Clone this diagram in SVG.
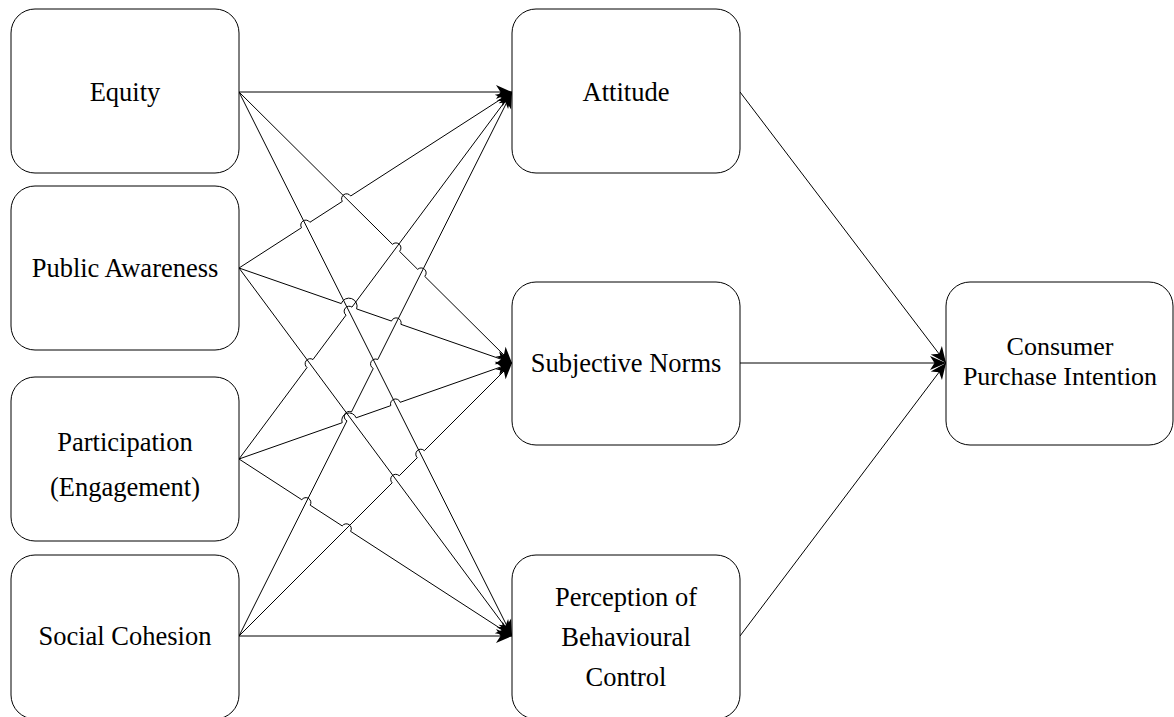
<svg xmlns="http://www.w3.org/2000/svg" width="1174" height="717" viewBox="0 0 1174 717">
<style>
.box{fill:#fff;stroke:#000;stroke-width:1}
.lbl{font-family:"Liberation Serif","Times New Roman",Times,serif;font-size:26.5px;fill:#000;text-anchor:middle}
.edge{fill:none;stroke:#000;stroke-width:1;marker-end:url(#arr)}
</style>
<defs>
<marker id="arr" markerWidth="18" markerHeight="15" refX="17" refY="7.5" orient="auto" markerUnits="userSpaceOnUse" viewBox="0 0 18 15"><path d="M17,7.5 L1,0.5 L5.5,7.5 L1,14.5 Z" fill="#000"/></marker>
</defs>
<rect width="1174" height="717" fill="#fff"/>
<g id="connectors">
<path class="edge" d="M239,92 L512,92"/>
<path class="edge" d="M239,92 L512,636"/>
<path class="edge" d="M239,268 L512,636"/>
<path class="edge" d="M239,636 L512,636"/>
<path class="edge" d="M239,92 L392.45,244.33 A5,5 0 0 1 399.55,251.37 L417.65,269.35 A5,5 0 0 1 424.75,276.39 L512,363"/>
<path class="edge" d="M239,268 L301.5,227.71 A5,5 0 0 1 309.9,222.29 L342.3,201.41 A5,5 0 0 1 350.7,195.99 L512,92"/>
<path class="edge" d="M239,268 L341.28,303.59 A8.12,8.12 0 0 1 356.62,308.93 L391.48,321.06 A5,5 0 0 1 400.92,324.34 L512,363"/>
<path class="edge" d="M239,459 L307.02,367.56 A5,5 0 0 1 312.98,359.54 L346.02,315.13 A5,5 0 0 1 351.98,307.11 L512,92"/>
<path class="edge" d="M239,459 L342.18,422.72 A7.39,7.39 0 0 1 356.12,417.81 L390.78,405.63 A5,5 0 0 1 400.22,402.31 L512,363"/>
<path class="edge" d="M239,459 L301.81,499.72 A5,5 0 0 1 310.19,505.16 L342.21,525.91 A5,5 0 0 1 350.59,531.35 L512,636"/>
<path class="edge" d="M239,636 L346.96,420.88 A5,5 0 0 1 351.44,411.94 L373.26,368.47 A5,5 0 0 1 377.74,359.53 L512,92"/>
<path class="edge" d="M239,636 L392.16,482.84 A5,5 0 0 1 399.24,475.76 L417.26,457.74 A5,5 0 0 1 424.34,450.66 L512,363"/>
<path class="edge" d="M740,92 L946,363"/>
<path class="edge" d="M740,363 L946,363"/>
<path class="edge" d="M740,636 L946,363"/>
</g>
<g id="equity"><rect class="box" x="11" y="9" width="228" height="164" rx="24"/><text class="lbl" font-family="Liberation Serif, serif" x="125" y="101">Equity</text></g>
<g id="public-awareness"><rect class="box" x="11" y="186" width="228" height="164" rx="24"/><text class="lbl" font-family="Liberation Serif, serif" x="125" y="277">Public Awareness</text></g>
<g id="participation"><rect class="box" x="11" y="377" width="228" height="164" rx="24"/><text class="lbl" font-family="Liberation Serif, serif" x="125" y="451">Participation</text><text class="lbl" font-family="Liberation Serif, serif" x="125" y="496">(Engagement)</text></g>
<g id="social-cohesion"><rect class="box" x="11" y="555" width="228" height="164" rx="24"/><text class="lbl" font-family="Liberation Serif, serif" x="125" y="645">Social Cohesion</text></g>
<g id="attitude"><rect class="box" x="512" y="9" width="228" height="164" rx="24"/><text class="lbl" font-family="Liberation Serif, serif" x="626" y="101">Attitude</text></g>
<g id="subjective-norms"><rect class="box" x="512" y="282" width="228" height="163" rx="24"/><text class="lbl" font-family="Liberation Serif, serif" x="626" y="372">Subjective Norms</text></g>
<g id="perception"><rect class="box" x="512" y="555" width="228" height="164" rx="24"/><text class="lbl" font-family="Liberation Serif, serif" x="626" y="606">Perception of</text><text class="lbl" font-family="Liberation Serif, serif" x="626" y="646">Behavioural</text><text class="lbl" font-family="Liberation Serif, serif" x="626" y="686">Control</text></g>
<g id="consumer-purchase-intention"><rect class="box" x="946" y="282" width="227" height="163" rx="24"/><text class="lbl" font-family="Liberation Serif, serif" style="font-size:26px" x="1060" y="355">Consumer</text><text class="lbl" font-family="Liberation Serif, serif" style="font-size:26px" x="1060" y="385">Purchase Intention</text></g>
</svg>
